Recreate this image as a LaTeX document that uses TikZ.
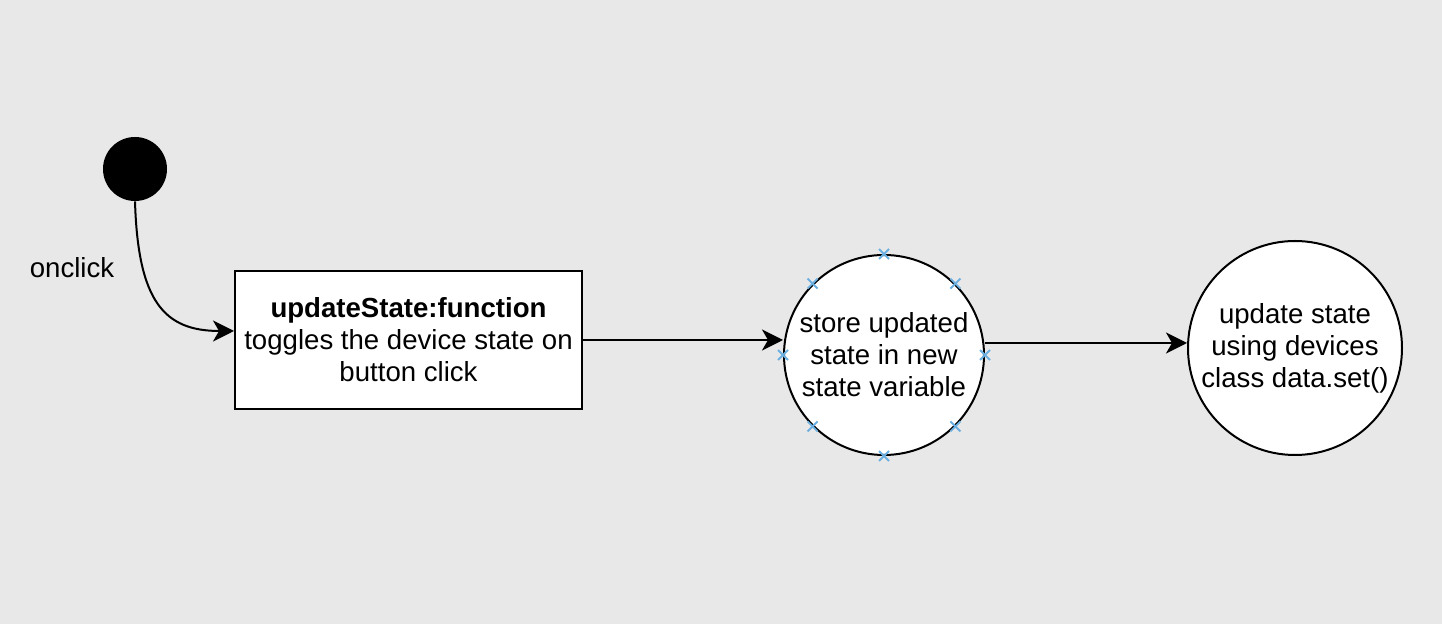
\documentclass[tikz,border=0pt]{standalone}
\usepackage{fontspec}
\setmainfont{Liberation Sans}
\usetikzlibrary{arrows.meta}

\definecolor{canvas}{RGB}{232,232,232}
\definecolor{pinblue}{RGB}{108,176,226}

\begin{document}
\begin{tikzpicture}[x=0.5pt, y=-0.5pt, >={Stealth[length=10.5pt,width=10.5pt,inset=3pt]},
    every node/.style={font=\fontsize{13.8}{16}\selectfont},
    startdot/.style={circle, fill=black, minimum size=32pt, inner sep=0pt},
    funcbox/.style={draw, fill=white, line width=1pt, align=center, minimum width=173.5pt, minimum height=69pt},
    action/.style={circle, draw, fill=white, line width=1pt, align=center, inner sep=0pt}]
    \fill[canvas] (0,0) rectangle (1442,624);
    \node[startdot] (start) at (135,169) {};
    \node (onclick) at (72,268) {onclick};
    \node[funcbox] (update) at (408.5,340) {\textbf{updateState:function}\\toggles the device state on\\button click};
    \node[action, minimum size=100pt] (store) at (884,355) {store updated\\state in new\\state variable};
    \node[action, minimum size=107pt] (devices) at (1295,348) {update state\\using devices\\class data.set()};
    % connection points of the selected shape
    \foreach \a in {0,45,...,315}
      \draw[pinblue, line width=0.9pt] ([shift={(-2.5pt,-2.5pt)}]store.\a) -- ([shift={(2.5pt,2.5pt)}]store.\a)
        ([shift={(-2.5pt,2.5pt)}]store.\a) -- ([shift={(2.5pt,-2.5pt)}]store.\a);
    \coordinate (storeout) at ([yshift=6pt]store.east);
    \draw[->, line width=1pt] (start.south) .. controls +(3,100) and +(-70,0) .. ([yshift=4.5pt]update.west);
    \draw[->, line width=1pt] (update.east) -- (update.east -| store.west);
    \draw[->, line width=1pt] (storeout) -- (storeout -| devices.west);
\end{tikzpicture}
\end{document}
